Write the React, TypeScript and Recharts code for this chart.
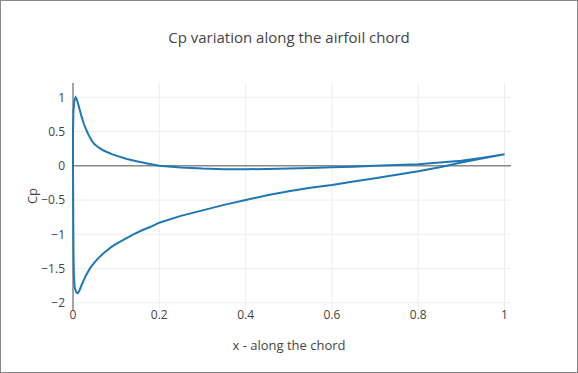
import {
  LineChart,
  Line,
  XAxis,
  YAxis,
  ReferenceLine,
} from 'recharts'

// pressure side, trailing edge -> leading edge
const pressureX = [
  1.0, 0.95, 0.9, 0.85, 0.8, 0.75, 0.7, 0.65, 0.6, 0.55, 0.5, 0.45, 0.4, 0.35,
  0.3, 0.25, 0.2, 0.175, 0.15, 0.125, 0.1, 0.09, 0.08, 0.07, 0.06, 0.05, 0.045,
  0.04, 0.035, 0.03, 0.025, 0.02, 0.015, 0.011, 0.008, 0.006, 0.003, 0.001, 0,
]
const pressureCp = [
  0.17, 0.12, 0.075, 0.05, 0.025, 0.012, 0.0, -0.012, -0.02, -0.03, -0.038,
  -0.045, -0.05, -0.048, -0.04, -0.025, 0.0, 0.03, 0.065, 0.1, 0.15, 0.172,
  0.198, 0.228, 0.265, 0.315, 0.355, 0.405, 0.465, 0.535, 0.615, 0.715, 0.835,
  0.925, 0.98, 1.0, 0.95, 0.8, 0.5,
]

// suction side, leading edge -> trailing edge
const suctionX = [
  0, 0.0005, 0.001, 0.002, 0.004, 0.008, 0.011, 0.015, 0.02, 0.03, 0.04, 0.05,
  0.06, 0.07, 0.08, 0.09, 0.1, 0.12, 0.14, 0.16, 0.18, 0.2, 0.25, 0.3, 0.35,
  0.4, 0.45, 0.5, 0.55, 0.6, 0.65, 0.7, 0.75, 0.8, 0.85, 0.9, 0.95, 1.0,
]
const suctionCp = [
  0.0, -0.6, -1.2, -1.6, -1.78, -1.85, -1.86, -1.82, -1.74, -1.6, -1.49, -1.41,
  -1.34, -1.28, -1.23, -1.18, -1.14, -1.07, -1.0, -0.94, -0.89, -0.83, -0.73,
  -0.65, -0.57, -0.5, -0.43, -0.37, -0.32, -0.28, -0.23, -0.18, -0.13, -0.08,
  -0.02, 0.05, 0.11, 0.17,
]

const xTicks = [0, 0.2, 0.4, 0.6, 0.8, 1]
const yTicks = [-2, -1.5, -1, -0.5, 0, 0.5, 1]

const data = [
  ...pressureX.map((x, i) => ({ x, cp: pressureCp[i] })),
  ...suctionX.map((x, i) => ({ x, cp: suctionCp[i] })),
]

const FONT = '"Open Sans", sans-serif'

function fmt(v: number) {
  return v < 0 ? '\u2212' + String(-v) : String(v)
}

export default function App() {
  return (
    <div
      style={{
        position: 'fixed',
        left: 0,
        top: 0,
        width: 578,
        height: 373,
        background: '#fff',
        fontFamily: FONT,
      }}
    >
      <LineChart
        width={578}
        height={373}
        data={data}
        margin={{ top: 83, right: 67, bottom: 33, left: 0 }}
      >
        <XAxis
          dataKey="x"
          type="number"
          domain={[0, 1.015]}
          ticks={xTicks}
          tickFormatter={fmt}
          axisLine={false}
          tickLine={false}
          tickSize={0}
          tickMargin={0}
          height={30}
          tick={{ fill: '#444', fontSize: 12, fontFamily: FONT }}
        />
        <YAxis
          type="number"
          domain={[-2.105, 1.21]}
          ticks={yTicks}
          tickFormatter={fmt}
          axisLine={false}
          tickLine={false}
          width={73}
          tick={{ fill: '#444', fontSize: 12, fontFamily: FONT }}
        />
        {xTicks
          .filter((v) => v !== 0)
          .map((v) => (
            <ReferenceLine key={'gx' + v} x={v} stroke="#eee" />
          ))}
        {yTicks
          .filter((v) => v !== 0)
          .map((v) => (
            <ReferenceLine key={'gy' + v} y={v} stroke="#eee" />
          ))}
        <ReferenceLine y={0} stroke="#888" strokeWidth={1.5} />
        <ReferenceLine x={0} stroke="#888" strokeWidth={1.5} />
        <Line
          dataKey="cp"
          type="linear"
          stroke="#1f77b4"
          strokeWidth={2}
          dot={false}
          isAnimationActive={false}
        />
      </LineChart>
      <div
        style={{
          position: 'absolute',
          left: 0,
          width: 578,
          top: 27,
          textAlign: 'center',
          fontSize: 15,
          color: '#444',
          lineHeight: '20px',
        }}
      >
        Cp variation along the airfoil chord
      </div>
      <div
        style={{
          position: 'absolute',
          left: 0,
          width: 578,
          top: 336,
          textAlign: 'center',
          fontSize: 13,
          color: '#444',
          lineHeight: '18px',
        }}
      >
        x - along the chord
      </div>
      <div
        style={{
          position: 'absolute',
          left: 32,
          top: 196,
          transform: 'translate(-50%, -50%) rotate(-90deg)',
          fontSize: 13,
          color: '#444',
          whiteSpace: 'nowrap',
        }}
      >
        Cp
      </div>
      <div
        style={{
          position: 'absolute',
          left: 0,
          top: 0,
          width: 578,
          height: 373,
          boxSizing: 'border-box',
          border: '1px solid #888',
          pointerEvents: 'none',
        }}
      />
    </div>
  )
}
